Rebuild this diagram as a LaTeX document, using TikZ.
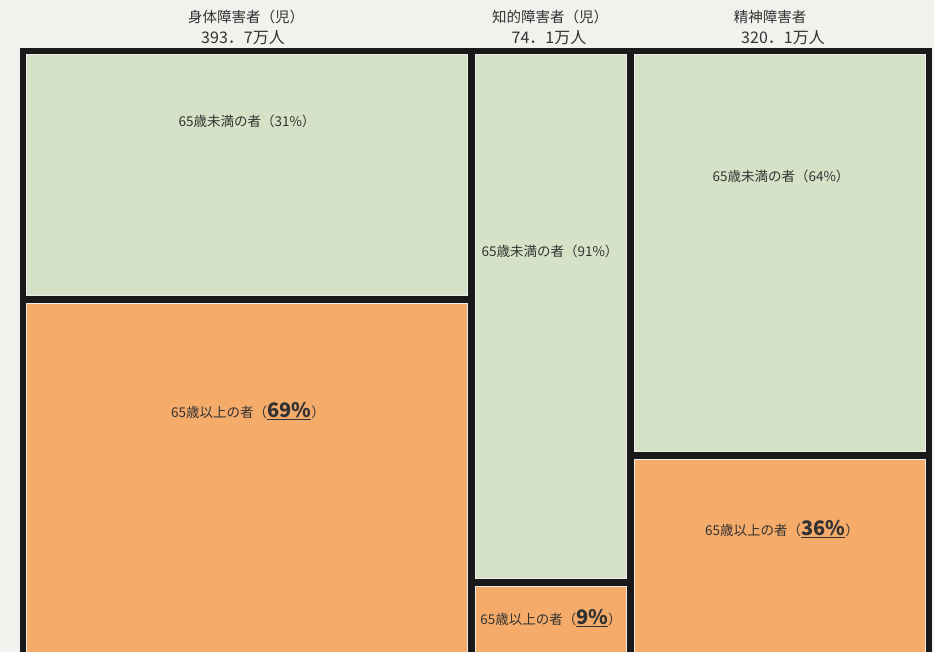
\documentclass[tikz,border=0pt]{standalone}
\usepackage{fontspec}
\setmainfont{Noto Sans CJK JP}
\definecolor{bgpaper}{RGB}{242,241,238}
\definecolor{cellgreen}{RGB}{214,226,199}
\definecolor{cellorange}{RGB}{245,171,106}
\definecolor{inkgrey}{RGB}{50,50,50}
\tikzset{
  cellbox/.style={draw=white!85!gray, line width=1.2pt},
  head/.style={text=inkgrey, font=\fontsize{14.5}{17}\selectfont, align=center, inner sep=0pt},
  lab/.style={text=inkgrey, font=\fontsize{13.5}{16}\selectfont, inner sep=0pt},
}
\newcommand{\pctbig}[1]{{\fontsize{20}{22}\selectfont\bfseries\underline{#1}}}
\newcommand{\numline}[1]{{\fontsize{16}{18}\selectfont #1}}
\begin{document}
\begin{tikzpicture}[x=1pt,y=-1pt]
\useasboundingbox (0,0) rectangle (934,652);
\clip (0,0) rectangle (934,652);
\fill[bgpaper] (0,0) rectangle (934,652);
\fill[black!90] (20,48) rectangle (932,670);
% cells
\filldraw[cellbox, fill=cellgreen]  (26.5,54.5) rectangle (467.5,295.5);
\filldraw[cellbox, fill=cellorange] (26.5,303.5) rectangle (467.5,680);
\filldraw[cellbox, fill=cellgreen]  (475.5,54.5) rectangle (626.5,578.5);
\filldraw[cellbox, fill=cellorange] (475.5,586.5) rectangle (626.5,680);
\filldraw[cellbox, fill=cellgreen]  (634.5,54.5) rectangle (925.5,451.5);
\filldraw[cellbox, fill=cellorange] (634.5,459.5) rectangle (925.5,680);
% headers
\node[head] (h1a) at (246,17) {身体障害者（児）};
\node[head] (h1b) at (243,38) {\numline{393．7万人}};
\node[head] (h2a) at (550,17) {知的障害者（児）};
\node[head] (h2b) at (549,38) {\numline{74．1万人}};
\node[head] (h3a) at (770,17) {精神障害者};
\node[head] (h3b) at (783,38) {\numline{320．1万人}};
% labels
\node[lab] (l1) at (247,121) {65歳未満の者（31\%）};
\node[lab] (l2) at (248,411) {65歳以上の者（\pctbig{69\%}）};
\node[lab] (l3) at (550,251) {65歳未満の者（91\%）};
\node[lab] (l4) at (551,618) {65歳以上の者（\pctbig{9\%}）};
\node[lab] (l5) at (781,176) {65歳未満の者（64\%）};
\node[lab] (l6) at (782,529) {65歳以上の者（\pctbig{36\%}）};
\end{tikzpicture}
\end{document}
